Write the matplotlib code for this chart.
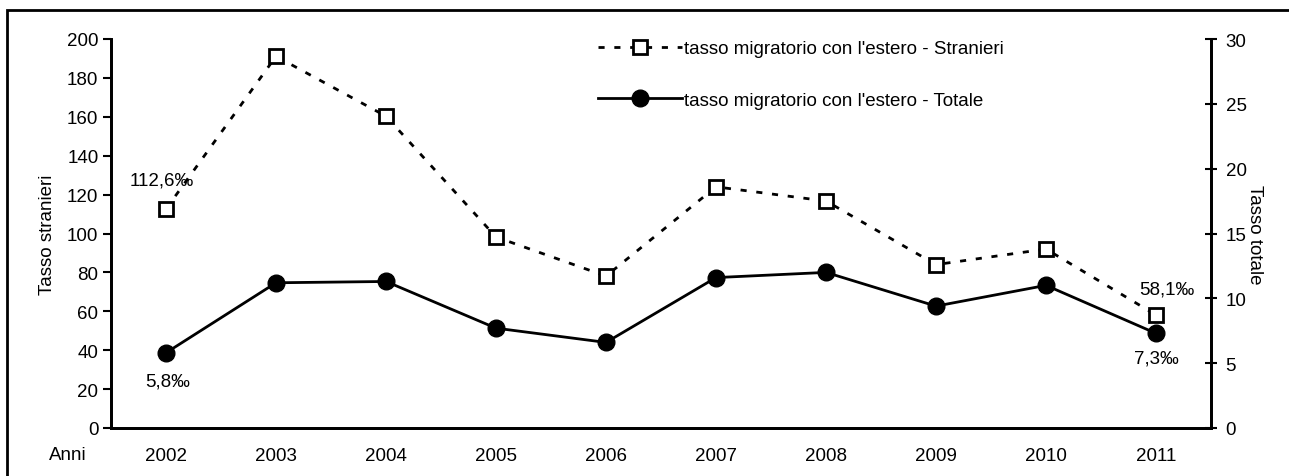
import matplotlib.pyplot as plt
from matplotlib.patches import Rectangle

anni = ["2002", "2003", "2004", "2005", "2006", "2007", "2008", "2009", "2010", "2011"]
tasso_stranieri = [112.6, 191.1, 160.3, 98.2, 78.1, 124.0, 116.7, 84.0, 92.0, 58.1]
tasso_totale = [5.8, 11.2, 11.3, 7.7, 6.6, 11.6, 12.0, 9.4, 11.0, 7.3]

plt.rcParams["font.family"] = ["Liberation Sans", "DejaVu Sans"]
plt.rcParams["font.size"] = 13.5

fig = plt.figure(figsize=(12.89, 4.77), dpi=100)
ax = fig.add_axes([111 / 1289, 48 / 477, 1100 / 1289, 389 / 477])
ax2 = ax.twinx()

x = list(range(len(anni)))

ax.plot(x, tasso_stranieri, color="black", lw=2, dashes=(2.2, 3.5),
        marker="s", markersize=10, markerfacecolor="white",
        markeredgecolor="black", markeredgewidth=2,
        label="tasso migratorio con l'estero - Stranieri", zorder=3)
ax2.plot(x, tasso_totale, color="black", lw=2, marker="o", markersize=12,
         label="tasso migratorio con l'estero - Totale", zorder=3)

ax.set_xlim(-0.5, len(anni) - 0.5)
ax.set_ylim(0, 200)
ax.set_yticks(range(0, 201, 20))
ax2.set_ylim(0, 30)
ax2.set_yticks(range(0, 31, 5))

ax.set_xticks(x)
ax.set_xticklabels(anni)
ax.tick_params(axis="x", length=0, pad=14)
ax.tick_params(axis="y", direction="out", length=6, width=1.5, pad=3)
ax2.tick_params(axis="y", direction="inout", length=9, width=1.5, pad=6)

for a in (ax, ax2):
    a.spines["top"].set_visible(False)
    for side in ("left", "right", "bottom"):
        a.spines[side].set_linewidth(2)

ax.set_ylabel("Tasso stranieri", labelpad=8)
ax2.set_ylabel("Tasso totale", rotation=270, labelpad=12)

fig.text(68 / 1289, 1 - 456 / 477, "Anni", ha="center", va="center")

# value labels on first and last year
ax.annotate(f"{tasso_stranieri[0]:.1f}‰".replace(".", ","), (x[0], tasso_stranieri[0]),
            xytext=(-3, 21), textcoords="offset points", ha="center", va="center")
ax.annotate(f"{tasso_stranieri[-1]:.1f}‰".replace(".", ","), (x[-1], tasso_stranieri[-1]),
            xytext=(8, 19), textcoords="offset points", ha="center", va="center")
ax2.annotate(f"{tasso_totale[0]:.1f}‰".replace(".", ","), (x[0], tasso_totale[0]),
             xytext=(1, -20), textcoords="offset points", ha="center", va="center")
ax2.annotate(f"{tasso_totale[-1]:.1f}‰".replace(".", ","), (x[-1], tasso_totale[-1]),
             xytext=(0, -18), textcoords="offset points", ha="center", va="center")

h1, l1 = ax.get_legend_handles_labels()
h2, l2 = ax2.get_legend_handles_labels()
ax2.legend(h1 + h2, l1 + l2, loc="upper left", bbox_to_anchor=(598 / 1289, 1 - 41 / 477),
           bbox_transform=fig.transFigure, frameon=False, handlelength=4.5,
           handletextpad=0.1, labelspacing=1.85, borderpad=0, borderaxespad=0)

fig.patches.append(Rectangle((7 / 1289, -0.1), 1.2, 1 - 11 / 477 + 0.1,
                             transform=fig.transFigure, fill=False,
                             edgecolor="black", lw=2))

fig.savefig("out.png", dpi=100)
